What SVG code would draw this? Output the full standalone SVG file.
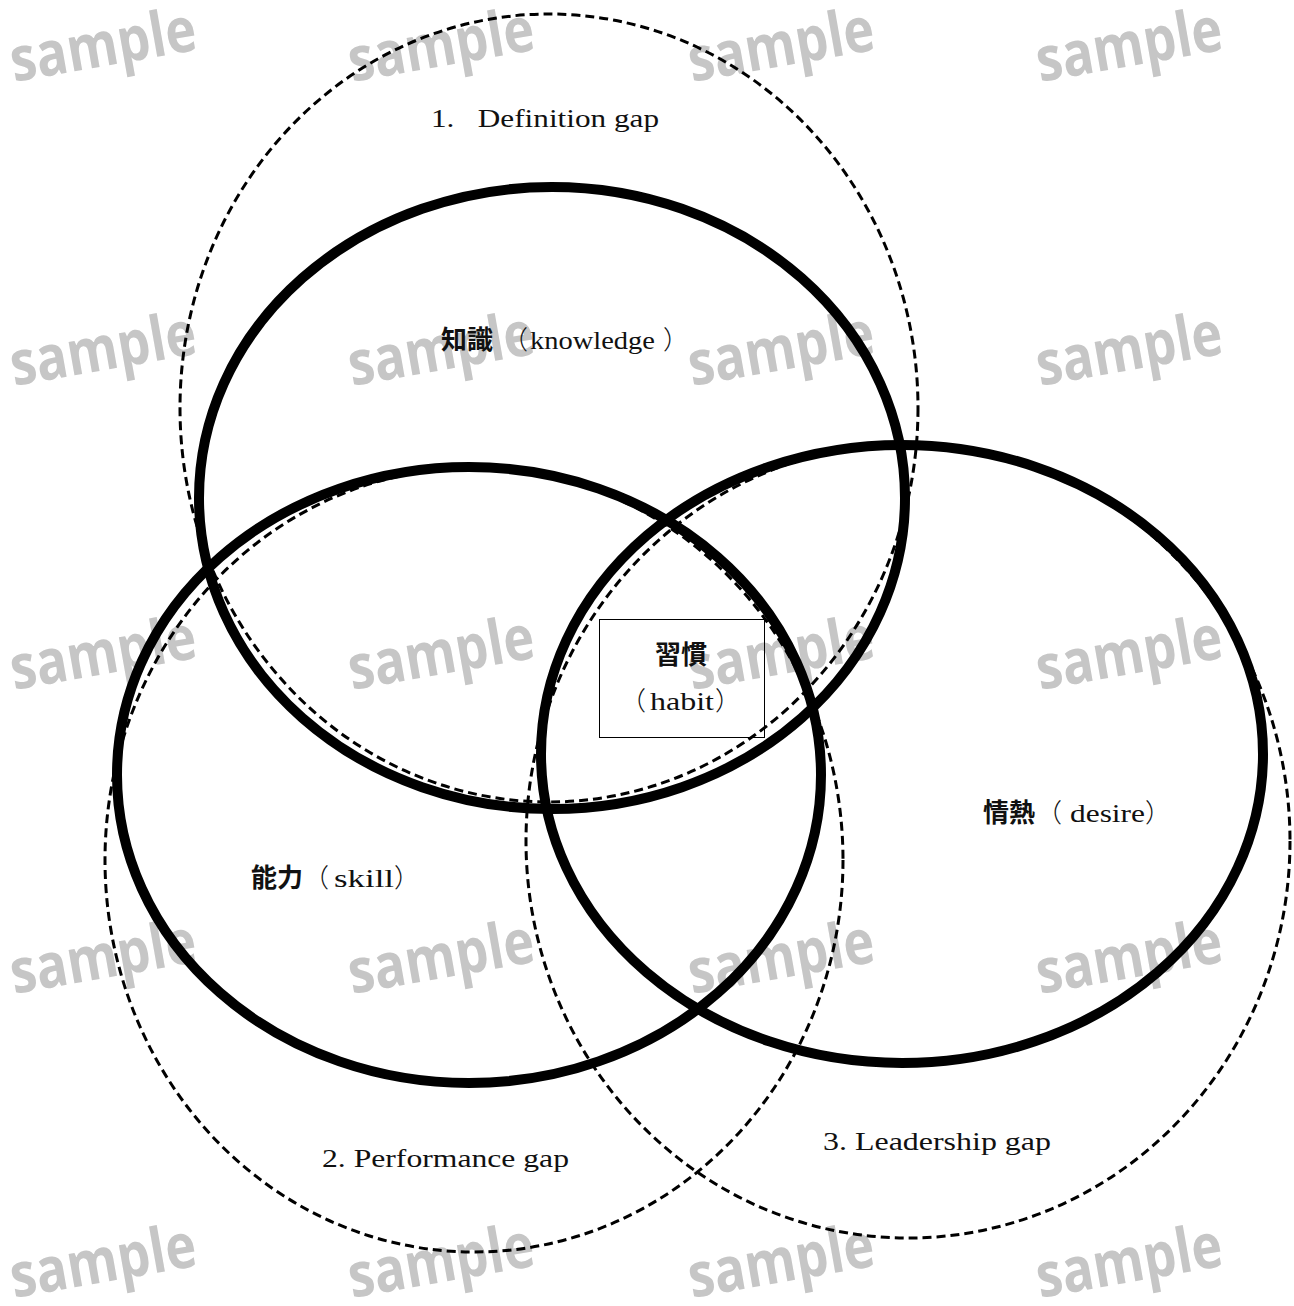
<svg xmlns="http://www.w3.org/2000/svg" width="1294" height="1306" viewBox="0 0 1294 1306">
<style>
.wm{font-family:"Open Sans","DejaVu Sans",sans-serif;font-weight:700;font-size:62px;fill:#c6c6c6}
.thick{fill:none;stroke:#000;stroke-width:10}
.dash{fill:none;stroke:#000;stroke-width:3;stroke-dasharray:9 5}
.lat{font-family:"Liberation Serif","DejaVu Serif",serif;font-size:26px;fill:#111}
.cjk{font-family:"Noto Sans CJK JP","Noto Sans CJK SC",sans-serif;font-size:26px;fill:#111;font-weight:700}
.par{font-family:"Noto Sans CJK JP",serif;font-size:26px;fill:#111;font-weight:300}
</style>
<rect width="1294" height="1306" fill="#fff"/>
<g id="watermarks">
<text class="wm" x="14" y="82" textLength="188" lengthAdjust="spacingAndGlyphs" transform="rotate(-10 14 82)">sample</text>
<text class="wm" x="352" y="82" textLength="188" lengthAdjust="spacingAndGlyphs" transform="rotate(-10 352 82)">sample</text>
<text class="wm" x="692" y="82" textLength="188" lengthAdjust="spacingAndGlyphs" transform="rotate(-10 692 82)">sample</text>
<text class="wm" x="1040" y="82" textLength="188" lengthAdjust="spacingAndGlyphs" transform="rotate(-10 1040 82)">sample</text>
<text class="wm" x="14" y="386" textLength="188" lengthAdjust="spacingAndGlyphs" transform="rotate(-10 14 386)">sample</text>
<text class="wm" x="352" y="386" textLength="188" lengthAdjust="spacingAndGlyphs" transform="rotate(-10 352 386)">sample</text>
<text class="wm" x="692" y="386" textLength="188" lengthAdjust="spacingAndGlyphs" transform="rotate(-10 692 386)">sample</text>
<text class="wm" x="1040" y="386" textLength="188" lengthAdjust="spacingAndGlyphs" transform="rotate(-10 1040 386)">sample</text>
<text class="wm" x="14" y="690" textLength="188" lengthAdjust="spacingAndGlyphs" transform="rotate(-10 14 690)">sample</text>
<text class="wm" x="352" y="690" textLength="188" lengthAdjust="spacingAndGlyphs" transform="rotate(-10 352 690)">sample</text>
<text class="wm" x="692" y="690" textLength="188" lengthAdjust="spacingAndGlyphs" transform="rotate(-10 692 690)">sample</text>
<text class="wm" x="1040" y="690" textLength="188" lengthAdjust="spacingAndGlyphs" transform="rotate(-10 1040 690)">sample</text>
<text class="wm" x="14" y="994" textLength="188" lengthAdjust="spacingAndGlyphs" transform="rotate(-10 14 994)">sample</text>
<text class="wm" x="352" y="994" textLength="188" lengthAdjust="spacingAndGlyphs" transform="rotate(-10 352 994)">sample</text>
<text class="wm" x="692" y="994" textLength="188" lengthAdjust="spacingAndGlyphs" transform="rotate(-10 692 994)">sample</text>
<text class="wm" x="1040" y="994" textLength="188" lengthAdjust="spacingAndGlyphs" transform="rotate(-10 1040 994)">sample</text>
<text class="wm" x="14" y="1298" textLength="188" lengthAdjust="spacingAndGlyphs" transform="rotate(-10 14 1298)">sample</text>
<text class="wm" x="352" y="1298" textLength="188" lengthAdjust="spacingAndGlyphs" transform="rotate(-10 352 1298)">sample</text>
<text class="wm" x="692" y="1298" textLength="188" lengthAdjust="spacingAndGlyphs" transform="rotate(-10 692 1298)">sample</text>
<text class="wm" x="1040" y="1298" textLength="188" lengthAdjust="spacingAndGlyphs" transform="rotate(-10 1040 1298)">sample</text>
</g>
<g id="gap-definition">
<ellipse class="dash" cx="549" cy="408" rx="369" ry="394"/>
<text class="lat" x="431" y="127" textLength="228" lengthAdjust="spacingAndGlyphs" xml:space="preserve">1.   Definition gap</text>
</g>
<g id="gap-performance">
<ellipse class="dash" cx="474" cy="860" rx="369" ry="392"/>
<text class="lat" x="322" y="1167" textLength="247" lengthAdjust="spacingAndGlyphs">2. Performance gap</text>
</g>
<g id="gap-leadership">
<ellipse class="dash" cx="908" cy="841" rx="382" ry="397"/>
<text class="lat" x="823" y="1150" textLength="228" lengthAdjust="spacingAndGlyphs">3. Leadership gap</text>
</g>
<g id="knowledge">
<ellipse class="thick" cx="552" cy="498" rx="353" ry="311"/>
<text x="441" y="349"><tspan class="cjk" x="441">知識</tspan><tspan class="par" x="502">（</tspan><tspan class="lat" x="530" textLength="125" lengthAdjust="spacingAndGlyphs">knowledge</tspan><tspan class="par" x="663">）</tspan></text>
</g>
<g id="skill">
<ellipse class="thick" cx="469" cy="775" rx="352" ry="308"/>
<text x="251" y="887"><tspan class="cjk" x="251">能力</tspan><tspan class="par" x="303">（</tspan><tspan class="lat" x="334" textLength="60" lengthAdjust="spacingAndGlyphs">skill</tspan><tspan class="par" x="394">）</tspan></text>
</g>
<g id="desire">
<ellipse class="thick" cx="902" cy="754" rx="361" ry="309"/>
<text x="983" y="822"><tspan class="cjk" x="983">情熱</tspan><tspan class="par" x="1036">（</tspan><tspan class="lat" x="1070" textLength="75" lengthAdjust="spacingAndGlyphs">desire</tspan><tspan class="par" x="1145">）</tspan></text>
</g>
<g id="habit">
<rect x="599.5" y="619.5" width="165" height="118" fill="none" stroke="#000" stroke-width="1"/>
<text class="cjk" x="655" y="664">習慣</text>
<text x="620" y="710"><tspan class="par" x="620">（</tspan><tspan class="lat" x="650" textLength="64" lengthAdjust="spacingAndGlyphs">habit</tspan><tspan class="par" x="715">）</tspan></text>
</g>
<g id="connectors"></g>
</svg>
